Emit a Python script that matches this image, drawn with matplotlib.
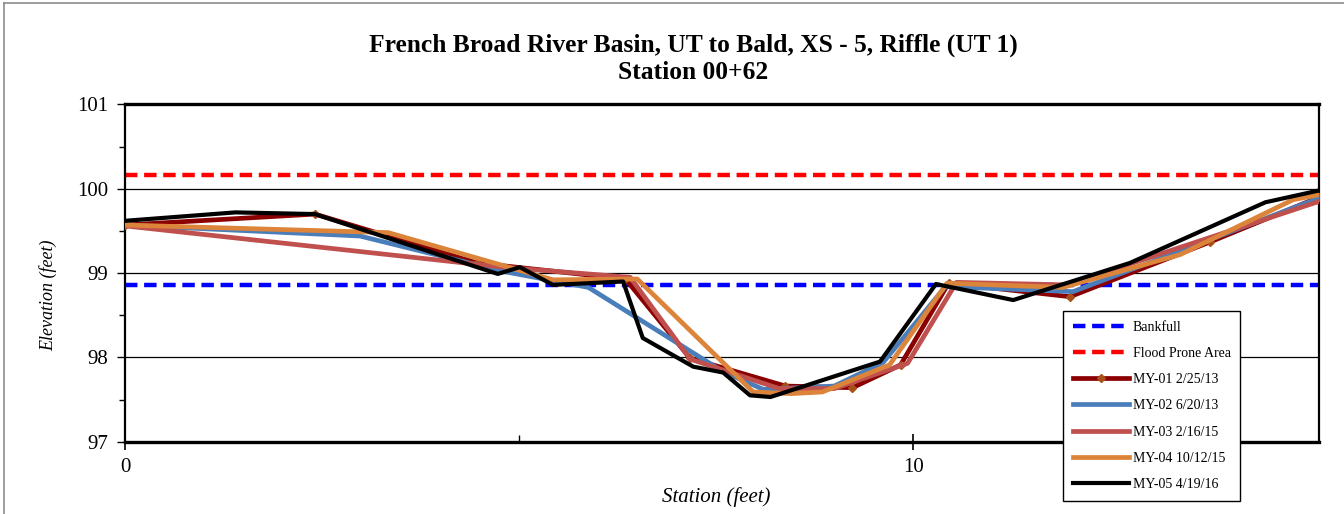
import matplotlib
matplotlib.use("Agg")
import matplotlib.pyplot as plt
from matplotlib.lines import Line2D

plt.rcParams['font.family'] = ['Liberation Serif', 'DejaVu Serif']

# reference elevations
bankfull = 98.86
flood_prone = 100.16

# surveyed cross sections (station ft, elevation ft)
my01_x = [0, 2.41, 4.47, 6.35, 7.17, 8.38, 9.23, 9.84, 10.45, 11.99, 13.77, 15.15]
my01_y = [99.57, 99.70, 99.12, 98.93, 97.99, 97.66, 97.64, 97.91, 98.88, 98.72, 99.37, 99.90]

my02_x = [0, 2.98, 4.80, 5.88, 7.59, 8.10, 9.00, 9.62, 10.41, 12.03, 15.15]
my02_y = [99.57, 99.44, 99.02, 98.83, 97.83, 97.62, 97.66, 97.94, 98.84, 98.78, 99.89]

my03_x = [0, 4.80, 6.41, 7.17, 8.30, 9.00, 9.93, 10.55, 11.95, 15.15]
my03_y = [99.56, 99.07, 98.95, 97.98, 97.63, 97.63, 97.93, 98.89, 98.86, 99.85]

my04_x = [0, 3.34, 5.43, 6.50, 7.97, 8.45, 8.85, 9.70, 10.43, 11.90, 13.39, 14.82, 15.15]
my04_y = [99.57, 99.48, 98.92, 98.93, 97.59, 97.57, 97.59, 97.91, 98.88, 98.83, 99.22, 99.87, 99.93]

my05_x = [0, 1.40, 2.41, 4.73, 5.01, 5.43, 6.32, 6.57, 7.21, 7.59, 7.93, 8.19, 9.58, 10.29, 11.27, 12.75, 14.47, 15.15]
my05_y = [99.62, 99.72, 99.70, 98.99, 99.07, 98.86, 98.90, 98.23, 97.89, 97.82, 97.55, 97.53, 97.95, 98.87, 98.68, 99.12, 99.84, 99.98]

xmax = 15.15

fig = plt.figure(figsize=(13.44, 5.14), dpi=100)
ax = fig.add_axes([0.093, 0.1407, 0.8884, 0.656])

# outer chart border (partly visible)
fig.add_artist(Line2D([0.003, 1.0], [0.995, 0.995], color='#8c8c8c', lw=1.2))
fig.add_artist(Line2D([0.003, 0.003], [0.0, 0.995], color='#8c8c8c', lw=1.2))

ax.axhline(bankfull, color='#0000ff', lw=3.2, dashes=(2.8, 1.5), label='Bankfull', zorder=2)
ax.axhline(flood_prone, color='#ff0000', lw=3.2, dashes=(2.8, 1.5), label='Flood Prone Area', zorder=2)

ax.plot(my01_x, my01_y, color='#8b0000', lw=3.4, marker='D', markersize=4,
        markerfacecolor='#a8501a', markeredgecolor='#a8501a', label='MY-01 2/25/13', zorder=3)
ax.plot(my02_x, my02_y, color='#4a7ebb', lw=3.4, label='MY-02 6/20/13', zorder=3)
ax.plot(my03_x, my03_y, color='#c0504d', lw=3.4, label='MY-03 2/16/15', zorder=3)
ax.plot(my04_x, my04_y, color='#dc843a', lw=3.4, label='MY-04 10/12/15', zorder=3)
ax.plot(my05_x, my05_y, color='black', lw=3.0, label='MY-05 4/19/16', zorder=4)

ax.set_xlim(0, xmax)
ax.set_ylim(97, 101)

ax.set_yticks([97, 98, 99, 100, 101])
ax.set_yticks([97.5, 98.5, 99.5, 100.5], minor=True)
ax.set_xticks([0, 10])
ax.set_xticks([5], minor=True)
ax.tick_params(axis='y', which='major', direction='out', length=6, width=1, labelsize=15, pad=6)
ax.tick_params(axis='y', which='minor', direction='out', length=4, width=1)
ax.tick_params(axis='x', which='major', direction='inout', length=12, width=1.2, labelsize=15, pad=6)
ax.tick_params(axis='x', which='minor', direction='in', length=5, width=1)

ax.grid(axis='y', which='major', color='black', lw=0.9)
ax.set_axisbelow(True)

for side in ['left', 'right']:
    ax.spines[side].set_linewidth(1.6)
for side in ['top', 'bottom']:
    ax.spines[side].set_linewidth(2.4)

ax.set_xlabel('Station (feet)', fontsize=15, style='italic', labelpad=8)
ax.xaxis.set_label_coords(0.495, -0.135)
ax.set_ylabel('Elevation (feet)', fontsize=13, style='italic')
ax.yaxis.set_label_coords(-0.057, 0.435)
fig.text(0.5156, 0.912, 'French Broad River Basin, UT to Bald, XS - 5, Riffle (UT 1)',
         ha='center', va='center', fontsize=18.4, fontweight='bold')
fig.text(0.5156, 0.859, 'Station 00+62',
         ha='center', va='center', fontsize=18.4, fontweight='bold')

leg = ax.legend(loc='upper left', bbox_to_anchor=(0.78, 0.408), fontsize=10,
                frameon=True, fancybox=False, edgecolor='black', framealpha=1,
                handlelength=4.0, labelspacing=0.95, borderpad=0.7, handletextpad=0.3)
leg.get_frame().set_linewidth(1.0)
leg.set_zorder(10)

fig.savefig('out.png', dpi=100)
